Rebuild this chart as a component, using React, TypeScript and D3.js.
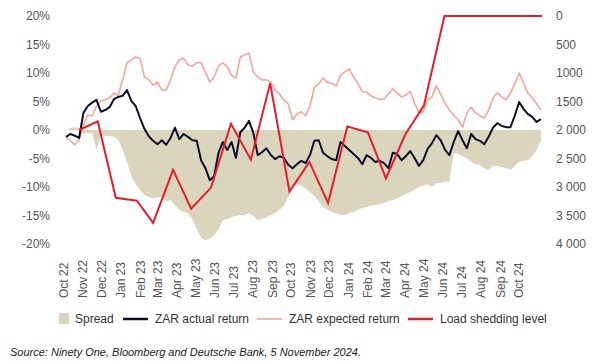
import React, { useEffect, useRef } from 'react';
import * as d3 from 'd3';

// weekly series, first week starts 1 Oct 2022
const actualReturn = [
  -1.2, -0.7, -1.0, -1.4, 3.0, 4.2, 4.8, 5.3, 3.2, 3.5,
  4.0, 5.4, 5.8, 6.0, 7.0, 5.1, 4.2, 2.1, 0.2, -1.1,
  -1.9, -2.5, -1.8, -2.6, -1.4, 0.4, -1.6, -0.7, -1.2, -1.8,
  -1.9, -5.3, -6.7, -8.8, -8.1, -4.0, -2.1, -3.5, -2.1, -4.9,
  -0.4, 0.4, 1.6, -0.5, -4.4, -3.9, -3.2, -4.4, -5.1, -4.6,
  -4.9, -6.1, -6.7, -6.0, -5.4, -5.8, -4.4, -1.9, -1.8, -4.0,
  -4.6, -5.1, -5.3, -2.1, -2.8, -3.5, -4.2, -4.9, -6.0, -4.4,
  -4.9, -5.6, -5.4, -5.8, -6.7, -4.0, -4.2, -5.3, -4.6, -3.7,
  -4.9, -6.3, -5.3, -3.3, -2.3, -0.9, -1.8, -3.5, -4.4, -2.1,
  -0.2, -1.8, -3.2, -0.7, -1.6, -1.9, -2.5, -1.2, 0.4, 1.2,
  0.7, 0.5, 0.5, 2.5, 4.9, 3.7, 2.8, 2.3, 1.4, 1.9,
];

const expectedReturn = [
  -1.2, -1.9, -2.6, -1.8, 0.9, 2.6, 2.5, 4.2, 5.1, 5.3,
  5.6, 6.5, 6.1, 8.8, 11.8, 12.3, 12.8, 12.6, 9.3, 8.8,
  7.9, 8.4, 7.0, 7.0, 8.8, 11.1, 12.3, 12.6, 11.4, 11.2,
  11.8, 11.8, 10.2, 8.4, 9.3, 11.2, 11.8, 11.1, 9.6, 9.1,
  12.8, 13.2, 13.5, 10.2, 9.3, 8.8, 8.8, 8.4, 7.0, 6.3,
  5.3, 4.6, 1.8, 2.8, 3.2, 2.5, 4.2, 7.5, 8.1, 9.1,
  8.4, 8.2, 7.7, 9.6, 10.2, 10.7, 9.3, 8.2, 6.7, 6.7,
  6.0, 5.6, 5.4, 5.4, 6.3, 7.2, 6.5, 5.8, 6.1, 6.8,
  4.7, 3.0, 3.2, 5.3, 5.8, 7.7, 6.3, 4.7, 3.5, 2.6,
  1.8, 0.5, 3.0, 4.0, 3.0, 2.5, 2.1, 3.5, 5.6, 6.5,
  5.8, 5.3, 6.5, 8.1, 10.0, 8.2, 6.5, 5.6, 4.6, 3.5,
];

const spread = [
  -0.3, 0.4, 0.5, 0.3, -0.6, -0.6, -0.6, -3.5, -1.0, -1.0,
  -1.1, -1.2, -1.8, -3.5, -5.6, -8.2, -9.5, -10.5, -11.4, -11.8,
  -12.0, -11.8, -11.8, -12.5, -12.3, -13.2, -14.0, -14.4, -14.6, -15.6,
  -17.4, -18.9, -19.3, -19.1, -18.4, -17.5, -15.8, -15.6, -15.3, -15.1,
  -14.9, -14.9, -14.6, -15.1, -15.8, -15.6, -15.3, -14.9, -14.6, -14.0,
  -13.3, -11.8, -10.0, -9.6, -9.8, -10.2, -10.9, -11.6, -12.5, -13.5,
  -14.0, -14.4, -14.6, -14.9, -14.9, -14.6, -14.4, -14.0, -13.7, -13.5,
  -13.3, -13.2, -13.0, -12.8, -12.5, -12.3, -12.0, -11.6, -11.2, -10.9,
  -10.5, -10.0, -9.8, -9.5, -10.0, -9.3, -9.3, -9.1, -9.1, -4.0,
  -4.2, -4.6, -4.9, -5.6, -6.0, -6.1, -6.7, -7.0, -6.3, -6.3,
  -6.5, -6.7, -7.0, -6.3, -5.6, -5.4, -5.3, -4.6, -3.5, -1.8,
];

const shedDates = [
  '2022-10-22', '2022-11-21', '2022-12-20', '2023-01-23', '2023-02-18',
  '2023-03-22', '2023-04-20', '2023-05-22', '2023-06-23', '2023-07-25',
  '2023-08-25', '2023-09-25', '2023-10-27', '2023-11-26', '2023-12-27',
  '2024-01-29', '2024-02-27', '2024-03-29', '2024-04-28', '2024-05-31',
  '2024-06-30', '2024-07-31', '2024-08-31', '2024-09-30', '2024-11-04',
];
const loadShedding = [
  2000, 1850, 3190, 3240, 3630, 2700, 3380, 3010, 1890, 2520,
  1180, 3080, 2560, 3280, 1940, 2040, 2850, 2080, 1570, 0,
  0, 0, 0, 0, 0,
];

const leftTicks = [20, 15, 10, 5, 0, -5, -10, -15, -20];
const rightTicks = [0, 500, 1000, 1500, 2000, 2500, 3000, 3500, 4000];
const rightTickLabels = ['0', '500', '1000', '1500', '2 000', '2 500', '3 000', '3 500', '4 000'];

const legendItems = [
  { label: 'Spread', kind: 'box', color: '#dcd5bd' },
  { label: 'ZAR actual return', kind: 'line', color: '#0c0d2a' },
  { label: 'ZAR expected return', kind: 'line', color: '#f4a596' },
  { label: 'Load shedding level', kind: 'line', color: '#e21f2c' },
];

export default function App() {
  const ref = useRef<SVGSVGElement>(null);

  useEffect(() => {
    if (!ref.current) return;
    const svg = d3.select(ref.current);
    svg.selectAll('*').remove();

    const font = '"Liberation Sans", Arial, sans-serif';
    const start = new Date(2022, 9, 1);
    const weeks = actualReturn.map((_, i) => d3.timeDay.offset(start, i * 7));

    const x = d3.scaleTime()
      .domain([new Date(2022, 9, 1), new Date(2024, 9, 1)])
      .range([66, 521]);
    const y = d3.scaleLinear().domain([-20, 20]).range([244, 16]);
    const yR = d3.scaleLinear().domain([0, 4000]).range([16, 244]);

    // spread area
    const area = d3.area<number>()
      .x((_, i) => x(weeks[i]))
      .y0(y(0))
      .y1(d => y(d));
    svg.append('path')
      .datum(spread)
      .attr('fill', '#dcd5bd')
      .attr('d', area);

    const line = d3.line<number>()
      .x((_, i) => x(weeks[i]))
      .y(d => y(d));

    svg.append('path')
      .datum(expectedReturn)
      .attr('fill', 'none')
      .attr('stroke', '#f4a596')
      .attr('stroke-width', 1.6)
      .attr('stroke-linejoin', 'round')
      .attr('d', line);

    svg.append('path')
      .datum(actualReturn)
      .attr('fill', 'none')
      .attr('stroke', '#0c0d2a')
      .attr('stroke-width', 2)
      .attr('stroke-linejoin', 'round')
      .attr('d', line);

    const shedLine = d3.line<number>()
      .x((_, i) => x(new Date(shedDates[i])))
      .y(d => yR(d));
    svg.append('path')
      .datum(loadShedding)
      .attr('fill', 'none')
      .attr('stroke', '#e21f2c')
      .attr('stroke-width', 2)
      .attr('d', shedLine);

    // left axis labels
    svg.append('g')
      .selectAll('text')
      .data(leftTicks)
      .join('text')
      .attr('x', 50)
      .attr('y', d => y(d))
      .attr('dy', '0.35em')
      .attr('text-anchor', 'end')
      .style('font-family', font)
      .style('font-size', '12px')
      .attr('fill', '#555')
      .text(d => `${d}%`);

    // right axis labels
    svg.append('g')
      .selectAll('text')
      .data(rightTicks)
      .join('text')
      .attr('x', 556)
      .attr('y', d => yR(d))
      .attr('dy', '0.35em')
      .style('font-family', font)
      .style('font-size', '12px')
      .attr('fill', '#555')
      .text((_, i) => rightTickLabels[i]);

    // month labels
    const months = d3.timeMonth.range(new Date(2022, 9, 1), new Date(2024, 10, 1));
    const fmt = d3.timeFormat('%b %y');
    svg.append('g')
      .selectAll('text')
      .data(months)
      .join('text')
      .attr('transform', d => `translate(${x(d) - 2},298) rotate(-90)`)
      .attr('dy', '0.35em')
      .style('font-family', font)
      .style('font-size', '12px')
      .attr('fill', '#555')
      .text(d => fmt(d));

    // legend
    const legendX = [59, 123, 257, 408];
    const lg = svg.append('g');
    legendItems.forEach((item, i) => {
      const lx = legendX[i];
      if (item.kind === 'box') {
        lg.append('rect')
          .attr('x', lx).attr('y', 313)
          .attr('width', 10).attr('height', 11)
          .attr('fill', item.color);
      } else {
        lg.append('line')
          .attr('x1', lx).attr('x2', lx + 25)
          .attr('y1', 319).attr('y2', 319)
          .attr('stroke', item.color)
          .attr('stroke-width', item.label.startsWith('ZAR expected') ? 1.6 : 2.5);
      }
      lg.append('text')
        .attr('x', item.kind === 'box' ? lx + 16 : lx + 32)
        .attr('y', 319)
        .attr('dy', '0.35em')
        .style('font-family', font)
        .style('font-size', '12px')
        .attr('fill', '#333')
        .text(item.label);
    });

    svg.append('text')
      .attr('x', 10)
      .attr('y', 356)
      .style('font-family', font)
      .style('font-size', '11px')
      .style('font-style', 'italic')
      .attr('fill', '#1a1a1a')
      .text('Source: Ninety One, Bloomberg and Deutsche Bank, 5 November 2024.');
  }, []);

  return (
    <div style={{ position: 'absolute', left: 0, top: 0, background: '#fff' }}>
      <svg ref={ref} width={602} height={361} style={{ display: 'block' }} />
    </div>
  );
}
